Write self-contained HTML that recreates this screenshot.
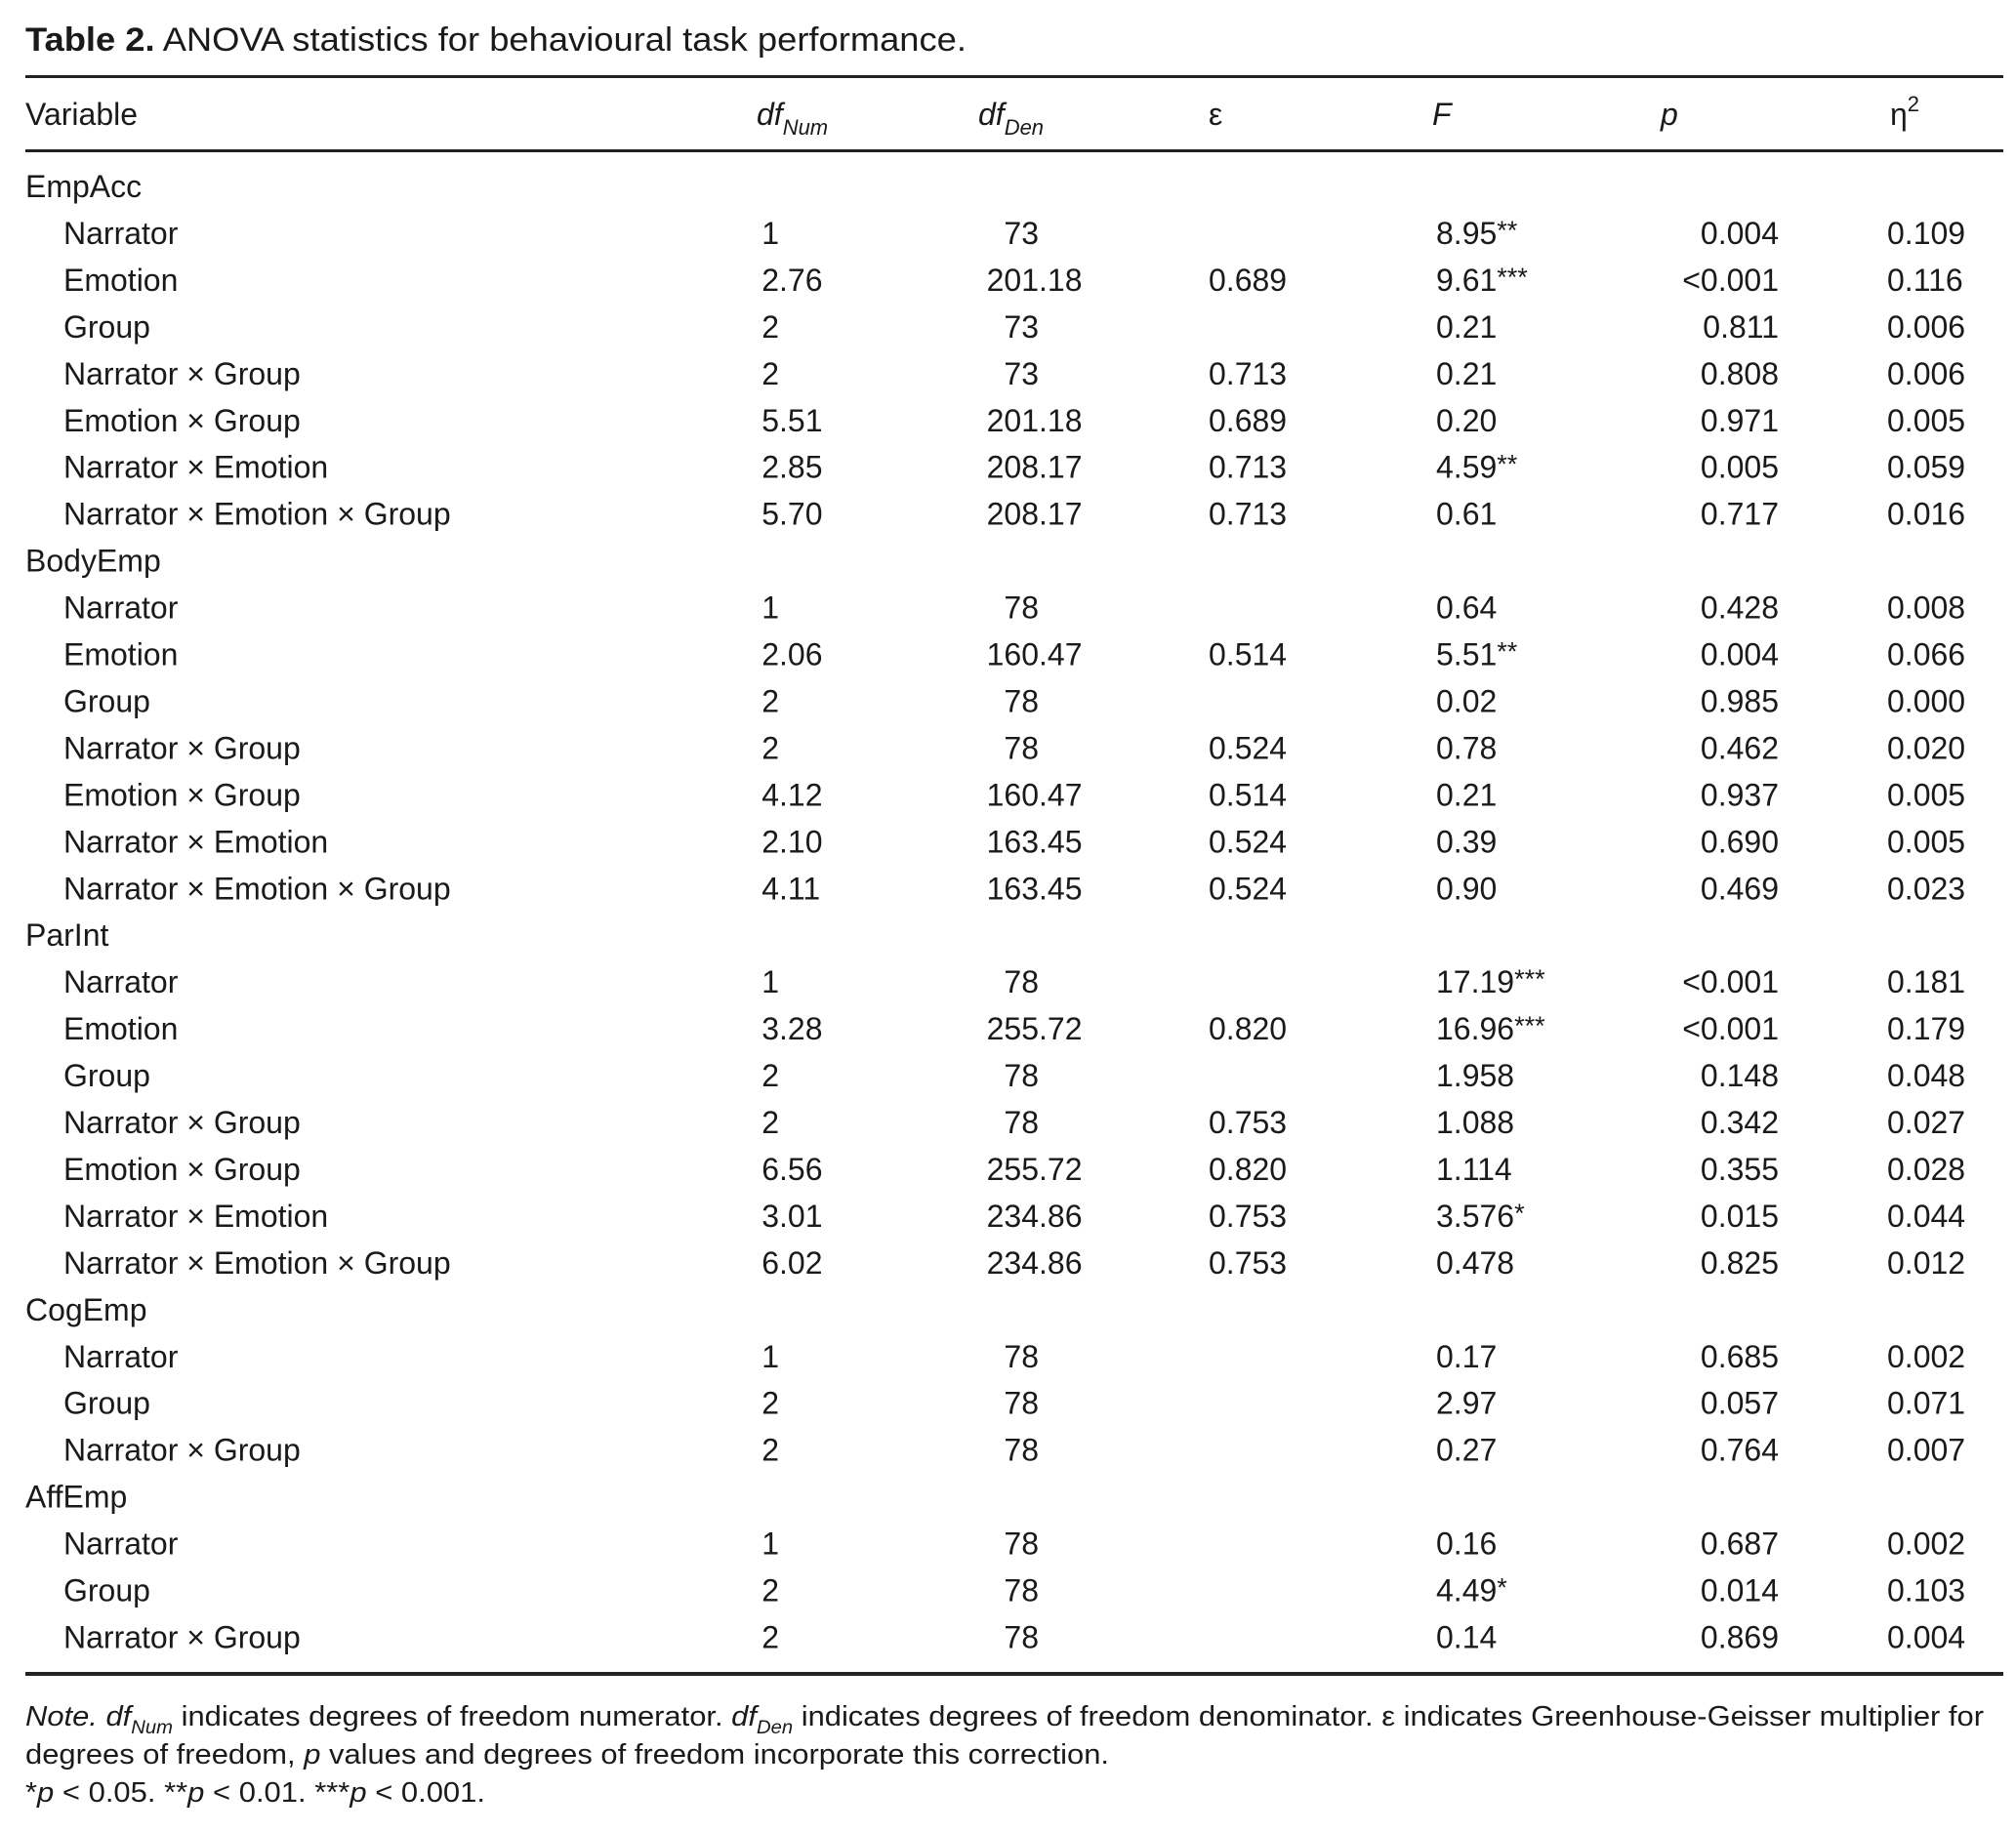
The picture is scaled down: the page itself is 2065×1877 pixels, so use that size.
<!DOCTYPE html>
<html><head><meta charset="utf-8"><style>
html,body{margin:0;padding:0;background:#fff;}
svg{display:block;}
text{font-family:"Liberation Sans",sans-serif;fill:#1a1a1a;font-size:32px;}
.i{font-style:italic;}
.s{font-size:22px;}
.st{font-size:27px;}
</style></head><body>
<svg width="2065" height="1877" viewBox="0 0 2065 1877" xmlns="http://www.w3.org/2000/svg">
<text x="26" y="52" textLength="964" lengthAdjust="spacingAndGlyphs" style="font-size:34px"><tspan font-weight="bold">Table 2.</tspan>  ANOVA statistics for behavioural task performance.</text>
<rect x="26" y="77" width="2026" height="3" fill="#222"/>
<rect x="26" y="153" width="2026" height="3" fill="#222"/>
<rect x="26" y="1713" width="2026" height="4" fill="#222"/>
<g transform="translate(0,128)">
<text x="26">Variable</text>
<text x="775" class="i">df<tspan class="s" dy="10">Num</tspan></text>
<text x="1002" class="i">df<tspan class="s" dy="10">Den</tspan></text>
<text x="1238">ε</text>
<text x="1467" class="i">F</text>
<text x="1701" class="i">p</text>
<text x="1936">η<tspan class="s" dy="-14">2</tspan></text>
</g>
<g id="rows">
<text x="26" y="202">EmpAcc</text>
<g transform="translate(0,249.95)"><text x="65">Narrator</text><text x="798" text-anchor="end">1</text><text x="1064" text-anchor="end">73</text><text x="1471">8.95<tspan class="st" dy="-5">**</tspan></text><text x="1822" text-anchor="end">0.004</text><text x="1933">0.109</text></g>
<g transform="translate(0,297.9)"><text x="65">Emotion</text><text x="798" text-anchor="end">2</text><text x="798">.76</text><text x="1064" text-anchor="end">201</text><text x="1064">.18</text><text x="1238">0.689</text><text x="1471">9.61<tspan class="st" dy="-5">***</tspan></text><text x="1822" text-anchor="end">&lt;0.001</text><text x="1933">0.116</text></g>
<g transform="translate(0,345.85)"><text x="65">Group</text><text x="798" text-anchor="end">2</text><text x="1064" text-anchor="end">73</text><text x="1471">0.21</text><text x="1822" text-anchor="end">0.811</text><text x="1933">0.006</text></g>
<g transform="translate(0,393.8)"><text x="65">Narrator × Group</text><text x="798" text-anchor="end">2</text><text x="1064" text-anchor="end">73</text><text x="1238">0.713</text><text x="1471">0.21</text><text x="1822" text-anchor="end">0.808</text><text x="1933">0.006</text></g>
<g transform="translate(0,441.75)"><text x="65">Emotion × Group</text><text x="798" text-anchor="end">5</text><text x="798">.51</text><text x="1064" text-anchor="end">201</text><text x="1064">.18</text><text x="1238">0.689</text><text x="1471">0.20</text><text x="1822" text-anchor="end">0.971</text><text x="1933">0.005</text></g>
<g transform="translate(0,489.7)"><text x="65">Narrator × Emotion</text><text x="798" text-anchor="end">2</text><text x="798">.85</text><text x="1064" text-anchor="end">208</text><text x="1064">.17</text><text x="1238">0.713</text><text x="1471">4.59<tspan class="st" dy="-5">**</tspan></text><text x="1822" text-anchor="end">0.005</text><text x="1933">0.059</text></g>
<g transform="translate(0,537.65)"><text x="65">Narrator × Emotion × Group</text><text x="798" text-anchor="end">5</text><text x="798">.70</text><text x="1064" text-anchor="end">208</text><text x="1064">.17</text><text x="1238">0.713</text><text x="1471">0.61</text><text x="1822" text-anchor="end">0.717</text><text x="1933">0.016</text></g>
<text x="26" y="585.6">BodyEmp</text>
<g transform="translate(0,633.55)"><text x="65">Narrator</text><text x="798" text-anchor="end">1</text><text x="1064" text-anchor="end">78</text><text x="1471">0.64</text><text x="1822" text-anchor="end">0.428</text><text x="1933">0.008</text></g>
<g transform="translate(0,681.5)"><text x="65">Emotion</text><text x="798" text-anchor="end">2</text><text x="798">.06</text><text x="1064" text-anchor="end">160</text><text x="1064">.47</text><text x="1238">0.514</text><text x="1471">5.51<tspan class="st" dy="-5">**</tspan></text><text x="1822" text-anchor="end">0.004</text><text x="1933">0.066</text></g>
<g transform="translate(0,729.45)"><text x="65">Group</text><text x="798" text-anchor="end">2</text><text x="1064" text-anchor="end">78</text><text x="1471">0.02</text><text x="1822" text-anchor="end">0.985</text><text x="1933">0.000</text></g>
<g transform="translate(0,777.4)"><text x="65">Narrator × Group</text><text x="798" text-anchor="end">2</text><text x="1064" text-anchor="end">78</text><text x="1238">0.524</text><text x="1471">0.78</text><text x="1822" text-anchor="end">0.462</text><text x="1933">0.020</text></g>
<g transform="translate(0,825.35)"><text x="65">Emotion × Group</text><text x="798" text-anchor="end">4</text><text x="798">.12</text><text x="1064" text-anchor="end">160</text><text x="1064">.47</text><text x="1238">0.514</text><text x="1471">0.21</text><text x="1822" text-anchor="end">0.937</text><text x="1933">0.005</text></g>
<g transform="translate(0,873.3)"><text x="65">Narrator × Emotion</text><text x="798" text-anchor="end">2</text><text x="798">.10</text><text x="1064" text-anchor="end">163</text><text x="1064">.45</text><text x="1238">0.524</text><text x="1471">0.39</text><text x="1822" text-anchor="end">0.690</text><text x="1933">0.005</text></g>
<g transform="translate(0,921.25)"><text x="65">Narrator × Emotion × Group</text><text x="798" text-anchor="end">4</text><text x="798">.11</text><text x="1064" text-anchor="end">163</text><text x="1064">.45</text><text x="1238">0.524</text><text x="1471">0.90</text><text x="1822" text-anchor="end">0.469</text><text x="1933">0.023</text></g>
<text x="26" y="969.2">ParInt</text>
<g transform="translate(0,1017.15)"><text x="65">Narrator</text><text x="798" text-anchor="end">1</text><text x="1064" text-anchor="end">78</text><text x="1471">17.19<tspan class="st" dy="-5">***</tspan></text><text x="1822" text-anchor="end">&lt;0.001</text><text x="1933">0.181</text></g>
<g transform="translate(0,1065.1)"><text x="65">Emotion</text><text x="798" text-anchor="end">3</text><text x="798">.28</text><text x="1064" text-anchor="end">255</text><text x="1064">.72</text><text x="1238">0.820</text><text x="1471">16.96<tspan class="st" dy="-5">***</tspan></text><text x="1822" text-anchor="end">&lt;0.001</text><text x="1933">0.179</text></g>
<g transform="translate(0,1113.05)"><text x="65">Group</text><text x="798" text-anchor="end">2</text><text x="1064" text-anchor="end">78</text><text x="1471">1.958</text><text x="1822" text-anchor="end">0.148</text><text x="1933">0.048</text></g>
<g transform="translate(0,1161)"><text x="65">Narrator × Group</text><text x="798" text-anchor="end">2</text><text x="1064" text-anchor="end">78</text><text x="1238">0.753</text><text x="1471">1.088</text><text x="1822" text-anchor="end">0.342</text><text x="1933">0.027</text></g>
<g transform="translate(0,1208.95)"><text x="65">Emotion × Group</text><text x="798" text-anchor="end">6</text><text x="798">.56</text><text x="1064" text-anchor="end">255</text><text x="1064">.72</text><text x="1238">0.820</text><text x="1471">1.114</text><text x="1822" text-anchor="end">0.355</text><text x="1933">0.028</text></g>
<g transform="translate(0,1256.9)"><text x="65">Narrator × Emotion</text><text x="798" text-anchor="end">3</text><text x="798">.01</text><text x="1064" text-anchor="end">234</text><text x="1064">.86</text><text x="1238">0.753</text><text x="1471">3.576<tspan class="st" dy="-5">*</tspan></text><text x="1822" text-anchor="end">0.015</text><text x="1933">0.044</text></g>
<g transform="translate(0,1304.85)"><text x="65">Narrator × Emotion × Group</text><text x="798" text-anchor="end">6</text><text x="798">.02</text><text x="1064" text-anchor="end">234</text><text x="1064">.86</text><text x="1238">0.753</text><text x="1471">0.478</text><text x="1822" text-anchor="end">0.825</text><text x="1933">0.012</text></g>
<text x="26" y="1352.8">CogEmp</text>
<g transform="translate(0,1400.75)"><text x="65">Narrator</text><text x="798" text-anchor="end">1</text><text x="1064" text-anchor="end">78</text><text x="1471">0.17</text><text x="1822" text-anchor="end">0.685</text><text x="1933">0.002</text></g>
<g transform="translate(0,1448.7)"><text x="65">Group</text><text x="798" text-anchor="end">2</text><text x="1064" text-anchor="end">78</text><text x="1471">2.97</text><text x="1822" text-anchor="end">0.057</text><text x="1933">0.071</text></g>
<g transform="translate(0,1496.65)"><text x="65">Narrator × Group</text><text x="798" text-anchor="end">2</text><text x="1064" text-anchor="end">78</text><text x="1471">0.27</text><text x="1822" text-anchor="end">0.764</text><text x="1933">0.007</text></g>
<text x="26" y="1544.6">AffEmp</text>
<g transform="translate(0,1592.55)"><text x="65">Narrator</text><text x="798" text-anchor="end">1</text><text x="1064" text-anchor="end">78</text><text x="1471">0.16</text><text x="1822" text-anchor="end">0.687</text><text x="1933">0.002</text></g>
<g transform="translate(0,1640.5)"><text x="65">Group</text><text x="798" text-anchor="end">2</text><text x="1064" text-anchor="end">78</text><text x="1471">4.49<tspan class="st" dy="-5">*</tspan></text><text x="1822" text-anchor="end">0.014</text><text x="1933">0.103</text></g>
<g transform="translate(0,1688.45)"><text x="65">Narrator × Group</text><text x="798" text-anchor="end">2</text><text x="1064" text-anchor="end">78</text><text x="1471">0.14</text><text x="1822" text-anchor="end">0.869</text><text x="1933">0.004</text></g>
</g>
<text x="26" y="1768" style="font-size:29px" textLength="2006" lengthAdjust="spacingAndGlyphs"><tspan class="i">Note. df</tspan><tspan class="i" style="font-size:19px" dy="8">Num</tspan><tspan dy="-8"> indicates degrees of freedom numerator. </tspan><tspan class="i">df</tspan><tspan class="i" style="font-size:19px" dy="8">Den</tspan><tspan dy="-8"> indicates degrees of freedom denominator. ε indicates Greenhouse-Geisser multiplier for</tspan></text>
<text x="26" y="1807" style="font-size:29px" textLength="1110" lengthAdjust="spacingAndGlyphs">degrees of freedom, <tspan class="i">p</tspan> values and degrees of freedom incorporate this correction.</text>
<text x="26" y="1846" style="font-size:29px" textLength="471" lengthAdjust="spacingAndGlyphs">*<tspan class="i">p</tspan> &lt; 0.05. **<tspan class="i">p</tspan> &lt; 0.01. ***<tspan class="i">p</tspan> &lt; 0.001.</text>
</svg>
</body></html>
